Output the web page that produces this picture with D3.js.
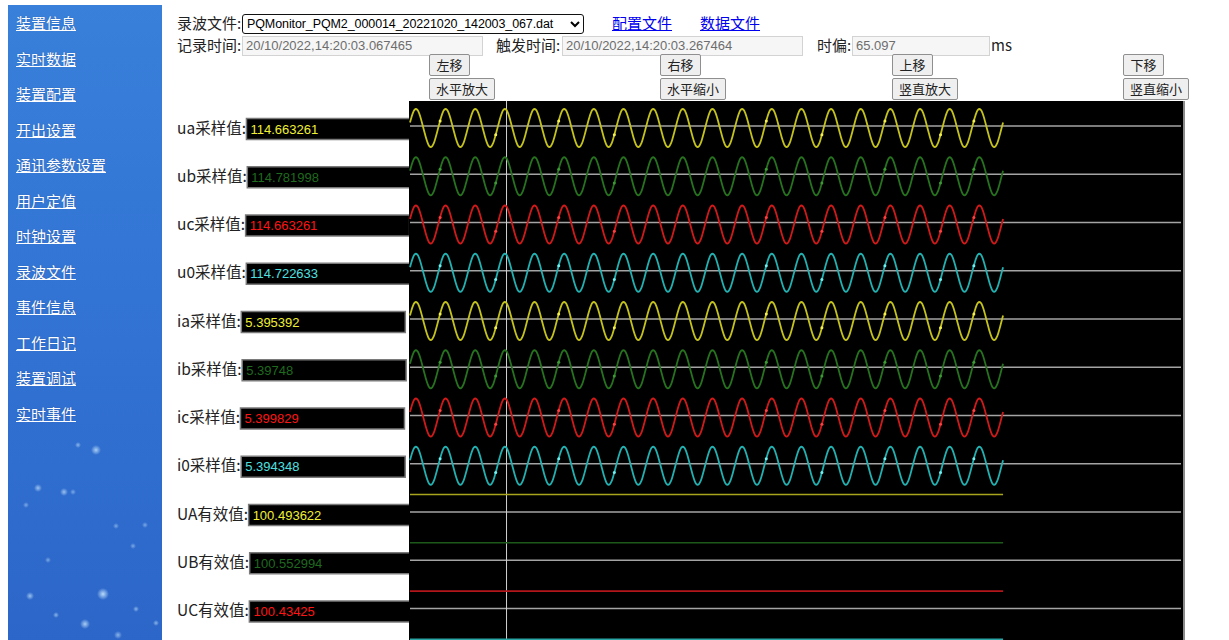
<!DOCTYPE html>
<html>
<head>
<meta charset="utf-8">
<script src="https://cdn.jsdelivr.net/npm/d3@7/dist/d3.min.js"></script>
<style>
body { margin: 0; background: #fff; font-family: "Noto Sans CJK SC", sans-serif; }
#page { position: relative; width: 1229px; height: 640px; overflow: hidden; background: #fff; }
#side {
  position: absolute; left: 8px; top: 5px; width: 154px; height: 640px;
  background:
    radial-gradient(circle at 88px 445px, rgba(200,230,255,0.8) 0, rgba(120,180,255,0) 5px),
    radial-gradient(circle at 30px 483px, rgba(200,230,255,0.7) 0, rgba(120,180,255,0) 4px),
    radial-gradient(circle at 56px 487px, rgba(200,230,255,0.7) 0, rgba(120,180,255,0) 4px),
    radial-gradient(circle at 95px 589px, rgba(200,230,255,0.9) 0, rgba(120,180,255,0) 6px),
    radial-gradient(circle at 22px 591px, rgba(200,230,255,0.7) 0, rgba(120,180,255,0) 4px),
    radial-gradient(circle at 70px 440px, rgba(200,230,255,0.6) 0, rgba(120,180,255,0) 3px),
    radial-gradient(circle at 65px 487px, rgba(200,230,255,0.5) 0, rgba(120,180,255,0) 3px),
    radial-gradient(circle at 108px 521px, rgba(200,230,255,0.5) 0, rgba(120,180,255,0) 3px),
    radial-gradient(circle at 125px 541px, rgba(200,230,255,0.5) 0, rgba(120,180,255,0) 3px),
    radial-gradient(circle at 77px 619px, rgba(200,230,255,0.8) 0, rgba(120,180,255,0) 5px),
    radial-gradient(circle at 48px 610px, rgba(200,230,255,0.6) 0, rgba(120,180,255,0) 3px),
    radial-gradient(circle at 128px 604px, rgba(200,230,255,0.6) 0, rgba(120,180,255,0) 3px),
    radial-gradient(circle at 148px 618px, rgba(200,230,255,0.6) 0, rgba(120,180,255,0) 3px),
    radial-gradient(circle at 60px 57px, rgba(200,230,255,0.5) 0, rgba(120,180,255,0) 3px),
    radial-gradient(circle at 40px 555px, rgba(200,230,255,0.5) 0, rgba(120,180,255,0) 3px),
    radial-gradient(circle at 137px 520px, rgba(200,230,255,0.5) 0, rgba(120,180,255,0) 3px),
    radial-gradient(circle at 110px 630px, rgba(200,230,255,0.6) 0, rgba(120,180,255,0) 4px),
    radial-gradient(circle at 18px 500px, rgba(200,230,255,0.5) 0, rgba(120,180,255,0) 3px),
    linear-gradient(to bottom, #3880da 0%, #3274d4 45%, #2c66c8 100%);
}
#side a {
  position: absolute; left: 8px; color: #fff; font-size: 15px;
  text-decoration: underline; white-space: nowrap; line-height: 20px;
  text-shadow: 0 0 1px rgba(0,0,60,0.4);
}
.lbl { position: absolute; font-size: 15px; color: #222; line-height: 20px; white-space: nowrap; }
.inp {
  position: absolute; height: 20px; box-sizing: border-box; border: 1px solid #d3d3d3;
  background: #f6f6f6; color: #6d6d6d; font: 13px "Liberation Sans", Arial, sans-serif;
  padding: 1px 3px; line-height: 16px; white-space: nowrap;
}
.btn {
  position: absolute; box-sizing: border-box; border: 1px solid #8f8f8f; border-radius: 2px;
  background: #efefef; color: #222; font-size: 13px; text-align: center; line-height: 19px;
}
.lnk { position: absolute; color: #0000ee; text-decoration: underline; font-size: 15px; line-height: 20px; }
#sel {
  position: absolute; left: 242px; top: 14px; width: 342px; height: 20px; box-sizing: border-box;
  border: 1px solid #111; border-radius: 3px; background: #fff; color: #000;
  font: 12.5px "Liberation Sans", Arial, sans-serif; padding: 0; letter-spacing: -0.1px;
}
svg { position: absolute; left: 0; top: 0; }
</style>
</head>
<body>
<div id="page"></div>
<script>
// ---- data ----
var menuItems = ["装置信息", "实时数据", "装置配置", "开出设置", "通讯参数设置", "用户定值",
                 "时钟设置", "录波文件", "事件信息", "工作日记", "装置调试", "实时事件"];
var fileName = "PQMonitor_PQM2_000014_20221020_142003_067.dat";
var recordTime = "20/10/2022,14:20:03.067465";
var triggerTime = "20/10/2022,14:20:03.267464";
var cursorMs = 65.097;

var sampleNames = ["ua", "ub", "uc", "u0", "ia", "ib", "ic", "i0"];
var sampleValues = [114.663261, 114.781998, 114.663261, 114.722633, 5.395392, 5.39748, 5.399829, 5.394348];
var rmsNames = ["UA", "UB", "UC", "U0"];
var rmsValues = [100.493622, 100.552994, 100.43425, 100.48];

// one 20 ms cycle of the trace, 1 ms per point (all channels are in phase on screen)
var cycleShape = [0.29, 0.57, 0.80, 0.95, 1.00, 0.95, 0.81, 0.58, 0.30, 0.00,
                  -0.29, -0.57, -0.80, -0.95, -1.00, -0.95, -0.81, -0.58, -0.30, 0.00];
var cycleCount = 20;
var cycleMs = 20;
var recordMs = 400;
var viewMs = 520;
// little dots drawn on every trace (ms)
var markerMs = [20.3, 57.8, 100.3, 137.8, 240.3, 277.8, 320.3, 357.8, 380.3];
var rmsFullScale = 98;

// ---- styles ----
var lineColors = ["#c4c21c", "#26721f", "#d01a1a", "#22b0b0"];
var textColors = ["#f0f032", "#1f6a1f", "#ff1414", "#4ee0e0"];
var dotColors = ["#f4f050", "#3c9a34", "#ff4040", "#70f0f0"];
var rmsColors = ["#a8a41c", "#1d5a1a", "#b3161a", "#2aa6a6"];

var page = d3.select("#page");

// sidebar
var side = page.append("div").attr("id", "side");
side.selectAll("a").data(menuItems).enter().append("a")
  .attr("href", "#")
  .style("top", function(d, i) { return (8 + i * 35.5) + "px"; })
  .text(function(d) { return d; });

// header
page.append("div").attr("class", "lbl").style("left", "177px").style("top", "13px").text("录波文件:");
var sel = page.append("select").attr("id", "sel");
sel.append("option").text(fileName);
page.append("a").attr("class", "lnk").attr("href", "#").style("left", "612px").style("top", "13px").text("配置文件");
page.append("a").attr("class", "lnk").attr("href", "#").style("left", "700px").style("top", "13px").text("数据文件");

page.append("div").attr("class", "lbl").style("left", "177px").style("top", "35px").text("记录时间:");
page.append("div").attr("class", "inp").style("left", "242px").style("top", "36px").style("width", "241px").text(recordTime);
page.append("div").attr("class", "lbl").style("left", "496px").style("top", "35px").text("触发时间:");
page.append("div").attr("class", "inp").style("left", "562px").style("top", "36px").style("width", "241px").text(triggerTime);
page.append("div").attr("class", "lbl").style("left", "817px").style("top", "35px").text("时偏:");
page.append("div").attr("class", "inp").style("left", "852px").style("top", "36px").style("width", "138px").text(cursorMs.toFixed(3));
page.append("div").attr("class", "lbl").style("left", "991px").style("top", "35px").text("ms");

var buttons = [
  {t: "左移", x: 429, y: 54, w: 41}, {t: "水平放大", x: 429, y: 78, w: 66},
  {t: "右移", x: 660, y: 54, w: 41}, {t: "水平缩小", x: 660, y: 78, w: 66},
  {t: "上移", x: 892, y: 54, w: 41}, {t: "竖直放大", x: 892, y: 78, w: 66},
  {t: "下移", x: 1123, y: 54, w: 41}, {t: "竖直缩小", x: 1123, y: 78, w: 66}
];
page.selectAll("div.btn").data(buttons).enter().append("div").attr("class", "btn")
  .style("left", function(d) { return d.x + "px"; })
  .style("top", function(d) { return d.y + "px"; })
  .style("width", function(d) { return d.w + "px"; })
  .style("height", "22px")
  .text(function(d) { return d.t; });

// ---- chart ----
var svg = page.append("svg").attr("width", 1229).attr("height", 640);

var chartLeft = 409, chartTop = 101, chartRight = 1183;
var rowBase0 = 126, rowStep = 48.25, halfAmp = 19;

var rows = [];
sampleNames.forEach(function(n, i) {
  rows.push({name: n, label: n + "采样值:", value: sampleValues[i], kind: "sample", color: i % 4});
});
rmsNames.forEach(function(n, i) {
  rows.push({name: n, label: n + "有效值:", value: rmsValues[i], kind: "rms", color: i % 4});
});
rows.forEach(function(r, i) {
  r.base = rowBase0 + i * rowStep;
  var c = r.base + 2;
  r.y = r.kind === "sample"
    ? d3.scaleLinear().domain([-1, 1]).range([c + halfAmp, c - halfAmp])
    : d3.scaleLinear().domain([-rmsFullScale, rmsFullScale]).range([c + halfAmp, c - halfAmp]);
});

var x = d3.scaleLinear().domain([0, viewMs]).range([410, 1181]);

// labels and value boxes (rows whose box is below the window are not shown)
var lab = svg.append("g");
rows.forEach(function(r) {
  if (r.base + 14 > 640) return;
  var t = lab.append("text")
    .attr("x", 177).attr("y", r.base + 7.5)
    .attr("font-family", "Noto Sans CJK SC, sans-serif")
    .attr("font-size", 15.5).attr("fill", "#222")
    .text(r.label);
  var bx = 177 + t.node().getComputedTextLength() + 0.5;
  lab.append("rect")
    .attr("x", bx).attr("y", r.base - 7.5)
    .attr("width", 164).attr("height", 21)
    .attr("fill", "#000").attr("stroke", "#7a7a7a").attr("stroke-width", 1.5);
  lab.append("text")
    .attr("x", bx + 4).attr("y", r.base + 7.5)
    .attr("font-family", "Liberation Sans, Arial, sans-serif")
    .attr("font-size", 13)
    .attr("fill", textColors[r.color])
    .text(String(r.value));
});

var chart = svg.append("g");
chart.append("rect")
  .attr("x", chartLeft).attr("y", chartTop)
  .attr("width", chartRight - chartLeft).attr("height", 640 - chartTop)
  .attr("fill", "#000");
chart.append("line")
  .attr("x1", chartRight + 1).attr("x2", chartRight + 1)
  .attr("y1", chartTop).attr("y2", 640)
  .attr("stroke", "#8a8a8a").attr("stroke-width", 2);

// row baselines
chart.selectAll("line.base").data(rows).enter().append("line")
  .attr("class", "base")
  .attr("x1", x(0)).attr("x2", x(viewMs))
  .attr("y1", function(d) { return d.base; })
  .attr("y2", function(d) { return d.base; })
  .attr("stroke", "#a4a4a4").attr("stroke-width", 1.5);

// cursor
chart.append("line")
  .attr("x1", x(cursorMs)).attr("x2", x(cursorMs))
  .attr("y1", chartTop).attr("y2", 640)
  .attr("stroke", "#d0d0d0").attr("stroke-width", 1);

// sample traces
var wave = [];
for (var c = 0; c < cycleCount; c++) {
  cycleShape.forEach(function(v, i) { wave.push({t: c * cycleMs + i, v: v}); });
}
wave.push({t: recordMs, v: cycleShape[0]});

function waveAt(t) {
  var i = Math.floor(t), f = t - i;
  var a = wave[Math.min(i, wave.length - 1)].v, b = wave[Math.min(i + 1, wave.length - 1)].v;
  return a + (b - a) * f;
}

rows.forEach(function(r) {
  if (r.kind === "sample") {
    var line = d3.line()
      .x(function(d) { return x(d.t); })
      .y(function(d) { return r.y(d.v); })
      .curve(d3.curveCatmullRom);
    chart.append("path")
      .datum(wave)
      .attr("d", line)
      .attr("fill", "none")
      .attr("stroke", lineColors[r.color])
      .attr("stroke-width", 1.8);
    chart.selectAll(null).data(markerMs).enter().append("circle")
      .attr("cx", function(d) { return x(d); })
      .attr("cy", function(d) { return r.y(waveAt(d)); })
      .attr("r", 1.5)
      .attr("fill", dotColors[r.color]);
  } else {
    chart.append("line")
      .attr("x1", x(0)).attr("x2", x(recordMs))
      .attr("y1", r.y(r.value)).attr("y2", r.y(r.value))
      .attr("stroke", rmsColors[r.color])
      .attr("stroke-width", 1.7);
  }
});
</script>
</body>
</html>
